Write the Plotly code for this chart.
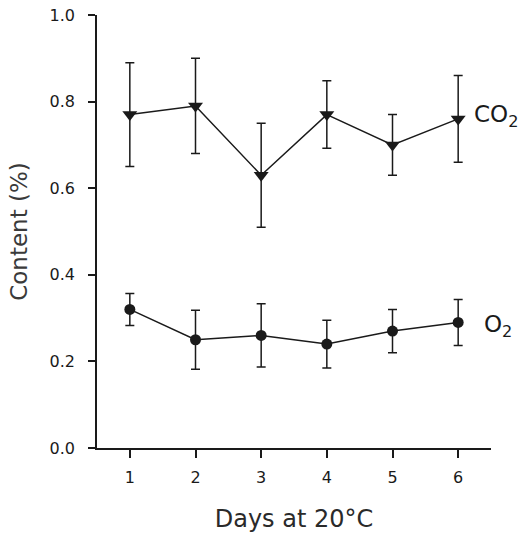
import plotly.graph_objects as go

# Storage days at 20 °C
days = [1, 2, 3, 4, 5, 6]

# CO2 content (%) with standard deviation
co2_mean = [0.77, 0.79, 0.63, 0.77, 0.70, 0.76]
co2_sd = [0.12, 0.11, 0.12, 0.078, 0.07, 0.10]

# O2 content (%) with standard deviation
o2_mean = [0.32, 0.25, 0.26, 0.24, 0.27, 0.29]
o2_sd = [0.037, 0.068, 0.073, 0.055, 0.05, 0.053]

y_ticks = [0.0, 0.2, 0.4, 0.6, 0.8, 1.0]

FONT = "DejaVu Sans"
INK = "#1a1a1a"

fig = go.Figure()

fig.add_trace(go.Scatter(
    x=days, y=co2_mean, mode="lines+markers", name="CO2",
    line=dict(color=INK, width=1.5),
    marker=dict(symbol="triangle-down", size=13, color=INK),
    error_y=dict(type="data", array=co2_sd, visible=True,
                 color=INK, thickness=1.5, width=4.5),
    showlegend=False,
))

fig.add_trace(go.Scatter(
    x=days, y=o2_mean, mode="lines+markers", name="O2",
    line=dict(color=INK, width=1.5),
    marker=dict(symbol="circle", size=11, color=INK),
    error_y=dict(type="data", array=o2_sd, visible=True,
                 color=INK, thickness=1.5, width=4.5),
    showlegend=False,
))

# Series labels beside the last point
fig.add_annotation(x=6, y=co2_mean[-1], xref="x", yref="y",
                   text="CO<sub>2</sub>", showarrow=False,
                   xanchor="left", xshift=14, yshift=3,
                   font=dict(family=FONT, size=23, color=INK))
fig.add_annotation(x=6, y=o2_mean[-1], xref="x", yref="y",
                   text="O<sub>2</sub>", showarrow=False,
                   xanchor="left", xshift=24, yshift=-4,
                   font=dict(family=FONT, size=23, color=INK))

fig.update_layout(
    width=526, height=536,
    margin=dict(l=97, r=35, t=15, b=88),
    paper_bgcolor="white", plot_bgcolor="white",
    font=dict(family=FONT, color=INK),
)

fig.update_xaxes(
    range=[0.5, 6.5], tickvals=days, ticktext=[str(d) for d in days],
    automargin=False,
    showgrid=False, zeroline=False,
    showline=True, linecolor=INK, linewidth=1.5,
    ticks="outside", ticklen=8, tickwidth=1.5, tickcolor=INK,
    tickfont=dict(family=FONT, size=16, color=INK),
    ticklabelstandoff=6,
    title=dict(text="Days at 20°C", standoff=24,
               font=dict(family=FONT, size=24, color="#2a2a2a")),
)

fig.update_yaxes(
    range=[0, 1.0], tickvals=y_ticks,
    ticktext=[f"{v:.1f}" for v in y_ticks],
    automargin=False,
    showgrid=False, zeroline=False,
    showline=True, linecolor=INK, linewidth=1.5,
    ticks="outside", ticklen=7, tickwidth=1.5, tickcolor=INK,
    tickfont=dict(family=FONT, size=16, color=INK),
    ticklabelstandoff=10,
    title=dict(text="Content (%)", standoff=16,
               font=dict(family=FONT, size=23, color="#3a3a3a")),
)

fig.write_html("out.html")
